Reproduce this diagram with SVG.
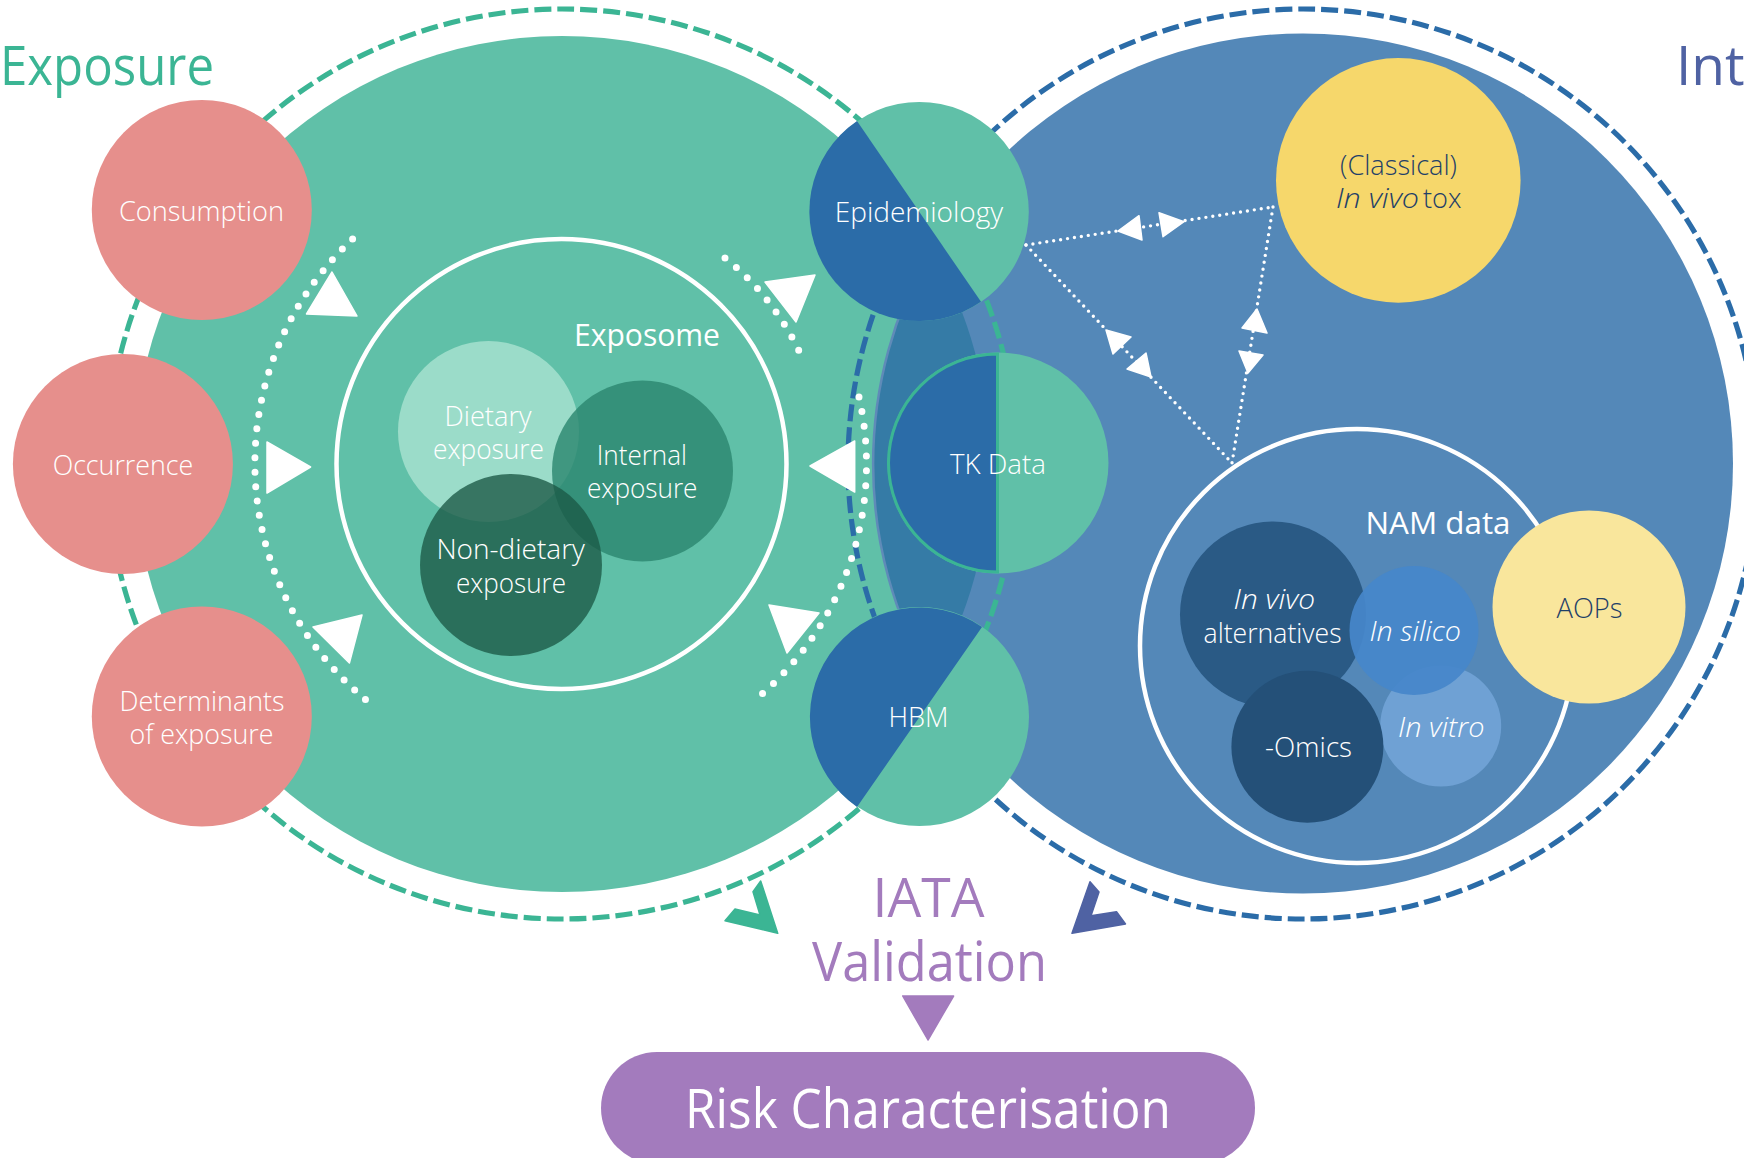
<svg xmlns="http://www.w3.org/2000/svg" width="1744" height="1158" viewBox="0 0 1744 1158">
<style>
text{font-family:"Open Sans","Noto Sans","Liberation Sans",sans-serif;font-weight:300;fill:#fff;font-size:27px}
.dk{fill:#1f4068}
.em{font-weight:400;font-size:31px}
.big{font-weight:400;font-size:55px}
.pu{fill:#a37bbd}
.g{fill:#60c0a8}.b{fill:#2b6ca8}.p{fill:#e68f8c}
.ring{fill:none;stroke-width:5.2;stroke-dasharray:17 6}
.arc{fill:none;stroke:#fff;stroke-width:7;stroke-linecap:round;stroke-dasharray:0 1}
.dot{fill:none;stroke:#fff;stroke-width:3.4;stroke-linecap:round;stroke-dasharray:0 7}
.tri{fill:#fff;stroke:#fff;stroke-width:1.5;stroke-linejoin:round}
.wr{fill:none;stroke:#fff}
</style>
<g id="exposure-domain"><circle class="g" cx="562" cy="464" r="428"/></g>
<g id="hazard-domain"><circle cx="1303" cy="463.5" r="430" fill="#5488b8"/></g>
<g id="overlap">
<path d="M931.3 248A428 428 0 0 1 931.3 680A430 430 0 0 1 931.3 248Z" fill="#357ba6"/>
<path d="M931.3 680A430 430 0 0 1 931.3 248" fill="none" stroke="#5f8bb8" stroke-width="2.5"/>
</g>
<g id="exposome-ring"><circle class="wr" cx="561.5" cy="464" r="225" stroke-width="4.5"/></g>
<g id="nam-ring"><circle class="wr" cx="1357" cy="646" r="217" stroke-width="4.5"/></g>
<g id="connectors">
<circle class="ring" cx="562" cy="464" r="455" stroke="#3bb594"/>
<circle class="ring" cx="1303" cy="464" r="455" stroke="#2b6ca8"/>
<path class="arc" pathLength="36.05" d="M352.6 239A307 307 0 0 0 366 700"/>
<path class="arc" pathLength="8.05" d="M725 258A263 263 0 0 1 799 351"/>
<path class="arc" pathLength="22.05" d="M859 397A305 305 0 0 1 762 694"/>
<polygon class="tri" points="332,272 306.5,314 357,316"/>
<polygon class="tri" points="267,442 310.6,467 267,493"/>
<polygon class="tri" points="362,615 313,627 349.4,663"/>
<polygon class="tri" points="765,282 815,275 796,322"/>
<polygon class="tri" points="854.7,441 810,466 854.7,492"/>
<polygon class="tri" points="769,605 819,613 787,653"/>
<path class="dot" d="M1026 245L1273 207"/>
<path class="dot" d="M1273 207L1232 463"/>
<path class="dot" d="M1026 245L1232 463"/>
<polygon class="tri" points="1118,231 1139,215.7 1142,240"/>
<polygon class="tri" points="1159,212.7 1184,221.7 1163,236.7"/>
<polygon class="tri" points="1257,309 1242,328 1267,333"/>
<polygon class="tri" points="1239,351 1263,355 1248,373"/>
<polygon class="tri" points="1106,330 1131,337 1113,354"/>
<polygon class="tri" points="1146,353 1151,377 1127,369"/>
<polygon points="760.7,881 777.7,933.3 725,920.7 735,909 760,915 753,891.7" fill="#3bb594" stroke="#3bb594" stroke-width="1.5" stroke-linejoin="round"/>
<polygon points="1090,881.7 1099,892 1091,915.7 1116.5,911.7 1125.5,924 1072,933.3" fill="#4f62a3" stroke="#4f62a3" stroke-width="1.5" stroke-linejoin="round"/>
<polygon points="902.7,996 953.6,996 928,1040" fill="#a37bbd" stroke="#a37bbd" stroke-width="1.5" stroke-linejoin="round"/>
</g>
<g id="exposure-title"><text class="big" x="0" y="85" style="fill:#3bb594" textLength="214" lengthAdjust="spacingAndGlyphs">Exposure</text></g>
<g id="inte-title"><text class="big" x="1676" y="85" style="fill:#4f62a3">Inte</text></g>
<g id="consumption"><circle class="p" cx="201.8" cy="210" r="110"/><text x="119" y="221" textLength="165" lengthAdjust="spacingAndGlyphs">Consumption</text></g>
<g id="occurrence"><circle class="p" cx="122.9" cy="464" r="110"/><text x="52.7" y="475" textLength="140.5" lengthAdjust="spacingAndGlyphs">Occurrence</text></g>
<g id="determinants"><circle class="p" cx="201.8" cy="716.5" r="110"/><text x="119.5" y="710.7" textLength="165" lengthAdjust="spacingAndGlyphs">Determinants</text><text x="129.5" y="744" textLength="144" lengthAdjust="spacingAndGlyphs">of exposure</text></g>
<g id="epidemiology"><circle class="g" cx="919.3" cy="211.5" r="109.5"/><path class="b" d="M857 121A109.5 109.5 0 0 0 981 301.8Z"/><text x="834.7" y="222" textLength="168.5" lengthAdjust="spacingAndGlyphs">Epidemiology</text></g>
<g id="tk-data"><circle class="g" cx="998" cy="463" r="110.5"/><path class="b" d="M997.5 354A109 109 0 0 0 997.5 572Z" stroke="#3bb594" stroke-width="3"/><text x="950" y="474" textLength="96" lengthAdjust="spacingAndGlyphs">TK Data</text></g>
<g id="hbm"><circle class="g" cx="919.5" cy="716.5" r="109.5"/><path class="b" d="M982 627A109.5 109.5 0 0 0 857 807Z"/><text x="888.5" y="726.7" textLength="60" lengthAdjust="spacingAndGlyphs">HBM</text></g>
<g id="exposome-label"><text class="em" x="574" y="345.7" textLength="146" lengthAdjust="spacingAndGlyphs">Exposome</text></g>
<g id="dietary"><circle cx="488.5" cy="431.5" r="90.5" fill="#9bdcc9"/><text x="444.5" y="426" textLength="87" lengthAdjust="spacingAndGlyphs">Dietary</text><text x="433" y="459" textLength="111" lengthAdjust="spacingAndGlyphs">exposure</text></g>
<g id="internal"><circle cx="642.5" cy="471" r="90.5" fill="#2b866f" fill-opacity=".81"/><text x="596.7" y="465" textLength="90.3" lengthAdjust="spacingAndGlyphs">Internal</text><text x="587" y="498" textLength="110.5" lengthAdjust="spacingAndGlyphs">exposure</text></g>
<g id="non-dietary"><circle cx="511" cy="565" r="91" fill="#1b5845" fill-opacity=".78"/><text x="436.4" y="559" textLength="148.5" lengthAdjust="spacingAndGlyphs">Non-dietary</text><text x="456" y="592.7" textLength="110" lengthAdjust="spacingAndGlyphs">exposure</text></g>
<g id="classical"><circle cx="1398.3" cy="180.4" r="122.3" fill="#f6d76b"/><text class="dk" x="1340" y="175" textLength="117" lengthAdjust="spacingAndGlyphs">(Classical)</text><text class="dk" x="1336" y="208" font-style="italic" textLength="83" lengthAdjust="spacingAndGlyphs">In vivo</text><text class="dk" x="1423" y="208" textLength="38.5" lengthAdjust="spacingAndGlyphs">tox</text></g>
<g id="nam-label"><text class="em" x="1365.5" y="534" textLength="145" lengthAdjust="spacingAndGlyphs">NAM data</text></g>
<g id="aops"><circle cx="1589" cy="607" r="96.5" fill="#f9e69c"/><text class="dk" x="1556.5" y="618" textLength="66" lengthAdjust="spacingAndGlyphs">AOPs</text></g>
<g id="in-vivo"><circle cx="1273" cy="614.5" r="93" fill="#2a5a85"/><text x="1233.6" y="609" font-style="italic" textLength="81.4" lengthAdjust="spacingAndGlyphs">In vivo</text><text x="1203.6" y="643" textLength="138" lengthAdjust="spacingAndGlyphs">alternatives</text></g>
<g id="in-vitro"><circle cx="1440.7" cy="726" r="60.5" fill="#6fa1d4"/><text x="1398" y="736.7" font-style="italic" textLength="86.5" lengthAdjust="spacingAndGlyphs">In vitro</text></g>
<g id="in-silico"><circle cx="1414" cy="630.5" r="64.5" fill="#4687ca" fill-opacity=".93"/><text x="1369.5" y="640.7" font-style="italic" textLength="91.5" lengthAdjust="spacingAndGlyphs">In silico</text></g>
<g id="omics"><circle cx="1307.4" cy="746.7" r="76" fill="#245078"/><text x="1265" y="757" textLength="87" lengthAdjust="spacingAndGlyphs">-Omics</text></g>
<g id="iata"><text class="big pu" style="fill:#a37bbd" x="872.5" y="917" textLength="112" lengthAdjust="spacingAndGlyphs">IATA</text><text class="big pu" style="fill:#a37bbd" x="812" y="981" textLength="235" lengthAdjust="spacingAndGlyphs">Validation</text></g>
<g id="risk"><rect x="601" y="1052" width="654" height="112" rx="56" fill="#a37bbd"/><text class="big" x="685" y="1128" textLength="486" lengthAdjust="spacingAndGlyphs">Risk Characterisation</text></g>
</svg>
